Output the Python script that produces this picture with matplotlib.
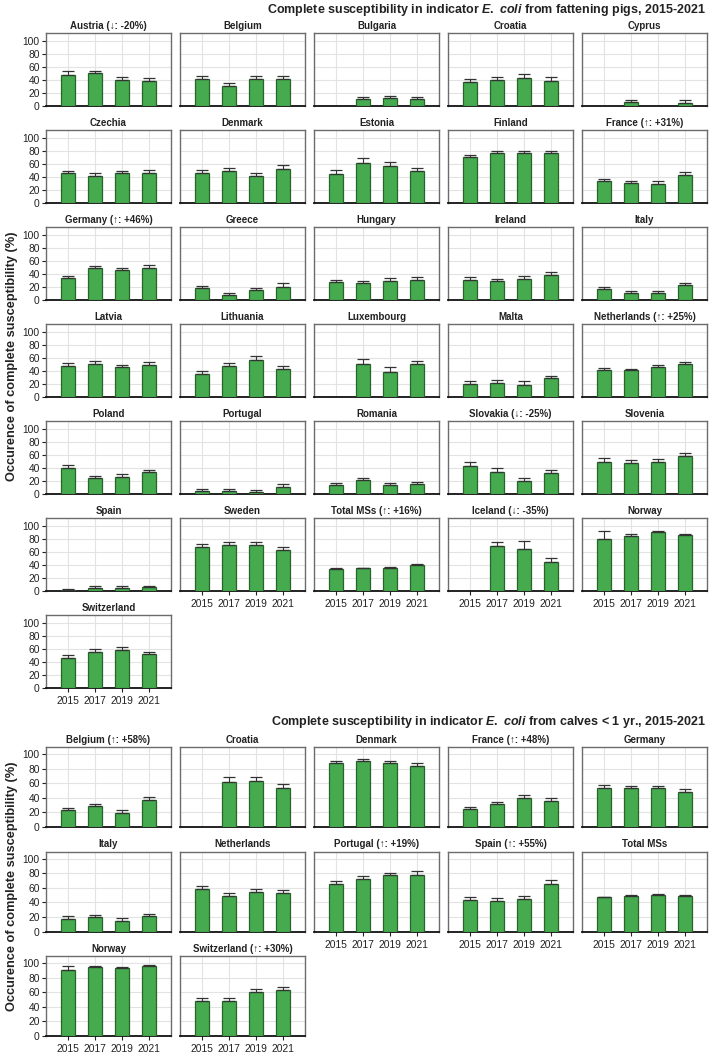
import numpy as np
import matplotlib.pyplot as plt

plt.rcParams['font.family'] = ['Liberation Sans', 'DejaVu Sans']
plt.rcParams['mathtext.fontset'] = 'custom'
plt.rcParams['mathtext.rm'] = 'Liberation Sans:bold'
plt.rcParams['mathtext.it'] = 'Liberation Sans:italic:bold'
plt.rcParams['mathtext.bf'] = 'Liberation Sans:bold'

nan = np.nan
years = [2015, 2017, 2019, 2021]
yticks = [0, 20, 40, 60, 80, 100]

# fattening pigs
pig_titles = ['Austria (↓: -20%)', 'Belgium', 'Bulgaria', 'Croatia', 'Cyprus',
              'Czechia', 'Denmark', 'Estonia', 'Finland', 'France (↑: +31%)',
              'Germany (↑: +46%)', 'Greece', 'Hungary', 'Ireland', 'Italy',
              'Latvia', 'Lithuania', 'Luxembourg', 'Malta', 'Netherlands (↑: +25%)',
              'Poland', 'Portugal', 'Romania', 'Slovakia (↓: -25%)', 'Slovenia',
              'Spain', 'Sweden', 'Total MSs (↑: +16%)', 'Iceland (↓: -35%)', 'Norway',
              'Switzerland']
pig_vals = [[48, 50, 40, 39], [41.5, 30.6, 42, 42], [nan, 11, 12, 11.4], [36.8, 40, 42.5, 38], [nan, 5.7, nan, 5.2],
            [45.6, 42, 46, 46], [46.7, 49, 42, 52], [44.6, 62, 57.4, 49.2], [70.3, 77, 77.4, 77.4], [33.3, 31.3, 29.7, 43.6],
            [33.8, 49.2, 46, 49.2], [18, 8.2, 14.9, 20.5], [27.7, 26, 29.7, 30.8], [30.8, 28.7, 32.8, 39], [16.4, 11.3, 11.3, 23],
            [47.7, 51.3, 45.6, 49.2], [34.9, 47, 56.4, 42.6], [nan, 50.3, 38.5, 51.3], [19.5, 21, 19, 28.7], [41, 41, 45.6, 51.3],
            [40, 24.6, 26.7, 33.3], [5.1, 5.1, 3.6, 10.3], [14.4, 21.5, 14.4, 15.4], [42.6, 34.4, 20.5, 32.3], [49.7, 47.2, 48.7, 58],
            [1.5, 5.2, 5.2, 6.2], [67.5, 71, 70.6, 63.4], [34, 35, 36, 39.7], [nan, 68.6, 64, 44.3], [79.9, 84.5, 91.2, 85.6],
            [46.4, 55.7, 58.8, 52]]
pig_upper = [[53, 54, 44, 42.5], [45.6, 34.7, 46, 46], [nan, 14.5, 15, 14.5], [42, 45, 48.7, 44], [nan, 8.8, nan, 9.8],
             [49, 46, 49, 50], [50.8, 53, 46, 58.5], [50, 68.7, 63.6, 54], [73.8, 80, 80.5, 80.5], [37, 34.4, 33.3, 47],
             [37, 51.8, 48.7, 53.3], [21.5, 10.8, 18, 25.6], [31.3, 29.7, 33.8, 35], [35.4, 31.8, 36.4, 42.6], [19.5, 13.8, 13.8, 26.7],
             [51.8, 55, 49.7, 53.3], [39.5, 51.8, 62.6, 47.7], [nan, 58.5, 46.7, 55.4], [25, 26, 24, 32.8], [44, 43.6, 48.7, 54.4],
             [44.6, 28.2, 30.3, 37], [7.2, 7.2, 5.6, 14.9], [17, 24.6, 17.4, 18.5], [48.7, 40, 25, 37.4], [55.4, 52.8, 53.8, 63.6],
             [2.6, 7.2, 7.2, 8.2], [71.6, 75, 74.7, 67.5], [35, 36, 37, 40.7], [nan, 74.7, 76.8, 50], [92.3, 87, 92.8, 88],
             [50.5, 59.3, 62.4, 55.7]]

# calves < 1 yr
calf_titles = ['Belgium (↑: +58%)', 'Croatia', 'Denmark', 'France (↑: +48%)', 'Germany',
               'Italy', 'Netherlands', 'Portugal (↑: +19%)', 'Spain (↑: +55%)', 'Total MSs',
               'Norway', 'Switzerland (↑: +30%)']
calf_vals = [[23.5, 28.6, 19.8, 36.9], [nan, 61.8, 62.7, 53.9], [87.6, 90.3, 87.6, 84.4], [24.4, 31.8, 39.6, 36], [53.9, 53, 53, 48.4],
             [17.1, 19.4, 14.8, 20.8], [58.8, 49.5, 54.6, 52.8], [65.3, 72.7, 77.3, 77.3], [43, 42.1, 44.4, 65.7], [46.8, 49, 50, 49],
             [91.2, 94.4, 93.5, 95.8], [48.6, 48.1, 60.6, 63]]
calf_upper = [[26.7, 32.2, 23.5, 41], [nan, 68.2, 68.7, 59.4], [91.3, 93, 90.8, 88.5], [27.6, 35, 44.2, 40], [57.6, 56.7, 56.7, 51.6],
              [20.8, 22.7, 18, 24.5], [62, 53.2, 58.3, 56.5], [69, 76.4, 81, 83.8], [47.2, 46.3, 48.6, 70.4], [48.1, 50.5, 51.4, 50.5],
              [96.3, 96.3, 95.4, 97.2], [52.3, 51.9, 64.4, 66.7]]

W, H = 709, 1054
fig = plt.figure(figsize=(W / 100, H / 100), dpi=100)

col_left = [46, 180, 314, 448, 582]
col_w = 125


def panel(left, top, w, h, title, vals, upper, ytop, show_y, show_x):
    ax = fig.add_axes([left / W, 1 - (top + h) / H, w / W, h / H])
    v = np.array(vals, dtype=float)
    u = np.array(upper, dtype=float)
    ax.bar(years, v, width=1.0, color='#46ab4f', edgecolor='#27642a', linewidth=0.9, zorder=3)
    ax.errorbar(years, v, yerr=[np.zeros(4), u - v], fmt='none', ecolor='#333333',
                elinewidth=0.8, capsize=4, capthick=0.9, zorder=4)
    ax.set_xlim(2013.4, 2022.6)
    ax.set_ylim(0, ytop)
    ax.set_xticks(years)
    ax.set_yticks(yticks)
    ax.set_axisbelow(True)
    ax.grid(True, color='#e3e3e3', linewidth=0.8)
    for s in ['top', 'left', 'right']:
        ax.spines[s].set_color('#6b6b6b')
        ax.spines[s].set_linewidth(1.0)
    ax.spines['bottom'].set_color('#111111')
    ax.spines['bottom'].set_linewidth(1.3)
    ax.tick_params(labelsize=7.4, length=3, width=0.8, pad=1.5, colors='#222222')
    ax.tick_params(axis='x', length=3 if show_x else 0, labelbottom=show_x, pad=3)
    ax.tick_params(axis='y', length=3 if show_y else 0, labelleft=show_y)
    ax.set_title(title, fontsize=7.0, fontweight='bold', pad=3, color='#222222')
    return ax


# pigs section
pig_top0, pig_pitch, pig_h = 33, 97, 73
n = len(pig_titles)
for i, t in enumerate(pig_titles):
    r, c = divmod(i, 5)
    below = i + 5
    panel(col_left[c], pig_top0 + r * pig_pitch, col_w, pig_h, t, pig_vals[i], pig_upper[i],
          112, c == 0, below >= n)

fig.text(706 / W, 1 - 10 / H,
         r'Complete susceptibility in indicator $\mathit{E.}$ $\mathit{coli}$ from fattening pigs, 2015-2021',
         ha='right', va='center', fontsize=9.0, fontweight='bold', color='#222222')
fig.text(12 / W, 1 - 356 / H, 'Occurence of complete susceptibility (%)', rotation=90,
         ha='center', va='center', fontsize=9.2, fontweight='bold', color='#222222')

# calves section
calf_top0, calf_pitch, calf_h = 747, 104.5, 80
n = len(calf_titles)
for i, t in enumerate(calf_titles):
    r, c = divmod(i, 5)
    below = i + 5
    panel(col_left[c], calf_top0 + r * calf_pitch, col_w, calf_h, t, calf_vals[i], calf_upper[i],
          110, c == 0, below >= n)

fig.text(706 / W, 1 - 722 / H,
         r'Complete susceptibility in indicator $\mathit{E.}$ $\mathit{coli}$ from calves < 1 yr., 2015-2021',
         ha='right', va='center', fontsize=9.0, fontweight='bold', color='#222222')
fig.text(12 / W, 1 - 886 / H, 'Occurence of complete susceptibility (%)', rotation=90,
         ha='center', va='center', fontsize=9.2, fontweight='bold', color='#222222')

fig.savefig('out.png', dpi=100, facecolor='white')
